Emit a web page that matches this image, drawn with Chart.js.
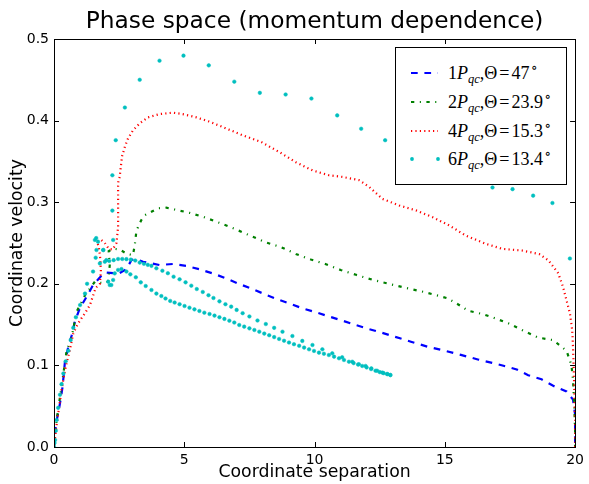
<!DOCTYPE html>
<html>
<head>
<meta charset="utf-8">
<script src="https://cdn.jsdelivr.net/npm/chart.js@4/dist/chart.umd.min.js"></script>
<style>
  html, body { margin: 0; padding: 0; background: #fff; }
  #wrap { position: relative; width: 589px; height: 484px; overflow: hidden; }
  #title { position: absolute; left: 316px; top: 6px; transform: translateX(-50%); white-space: nowrap;
           font-family: "DejaVu Sans", sans-serif; font-size: 23.3px; line-height: 28px; color: #000; }
  #legend { position: absolute; left: 395px; top: 47px; width: 172px; height: 138px; box-sizing: border-box;
            border: 1px solid #000; background: #fff; }
  .entry { position: absolute; left: 0; height: 24px; width: 170px; }
  .entry svg { position: absolute; left: 14px; top: 6px; }
  .entry .lab { position: absolute; left: 52px; top: 0; font-family: "Liberation Serif", "DejaVu Serif", serif; font-size: 18px; line-height: 24px; white-space: nowrap; color: #000; }
  .lab sub { font-size: 12.5px; vertical-align: -4px; line-height: 0; }
  .lab sup { font-size: 14px; vertical-align: 7px; line-height: 0; margin-left: 1.5px; }
  .lab .eq { padding: 0 2px; }
</style>
</head>
<body>
<div id="wrap">
  <canvas id="c" width="589" height="484"></canvas>
  <div id="title"></div>
  <div id="legend"></div>
</div>
<script>
// ---- data ----
const chartTitle = "Phase space (momentum dependence)";
const xTicks = [0, 5, 10, 15, 20];
const yTicks = [0.0, 0.1, 0.2, 0.3, 0.4, 0.5];

const seriesNames = ["1Pqc, Θ=47°", "2Pqc, Θ=23.9°", "4Pqc, Θ=15.3°", "6Pqc, Θ=13.4°"];
const legendMomentum = ["1", "2", "4", "6"];
const legendAngle = ["47", "23.9", "15.3", "13.4"];

const blueX = [0, 0.04, 0.13, 0.23, 0.33, 0.42, 0.55, 0.68, 0.8, 0.99, 1.25, 1.5, 1.82, 1.95, 2.27, 2.46, 2.78, 2.97, 3.1, 3.42, 3.75, 4.05, 4.56, 5.07, 5.58, 6.09, 6.6, 7.05, 7.5, 8.07, 8.5, 9.02, 9.53, 10.1, 10.55, 11.06, 11.58, 12.08, 12.59, 13.1, 13.7, 14.33, 15.0, 15.65, 16.3, 16.97, 17.25, 17.76, 18.2, 18.71, 19.16, 19.67, 19.92, 20, 20];
const blueY = [0, 0.019, 0.037, 0.0535, 0.074, 0.1045, 0.123, 0.137, 0.1536, 0.17, 0.184, 0.1985, 0.21, 0.214, 0.213, 0.212, 0.218, 0.229, 0.2304, 0.227, 0.225, 0.223, 0.2243, 0.222, 0.2178, 0.2128, 0.2067, 0.2006, 0.195, 0.1875, 0.182, 0.176, 0.17, 0.1646, 0.16, 0.155, 0.1495, 0.1446, 0.14, 0.135, 0.129, 0.123, 0.118, 0.1126, 0.107, 0.102, 0.0995, 0.095, 0.088, 0.083, 0.075, 0.068, 0.058, 0.04, 0];

const greenX = [0, 0.1, 0.29, 0.48, 0.68, 0.87, 1.19, 1.57, 1.89, 2.08, 2.14, 2.1, 2.27, 2.52, 2.78, 3.03, 3.1, 3.16, 3.23, 3.35, 3.48, 3.99, 4.31, 4.63, 5.2, 5.77, 6.41, 6.96, 7.56, 8.11, 8.71, 9.28, 9.86, 10.44, 11.0, 11.59, 12.22, 12.85, 13.5, 14.2, 14.8, 15.12, 15.5, 15.9, 16.44, 16.9, 17.44, 18.01, 18.59, 19.16, 19.67, 19.86, 19.92, 19.97, 20, 20];
const greenY = [0, 0.033, 0.074, 0.117, 0.135, 0.166, 0.186, 0.2026, 0.2006, 0.203, 0.223, 0.24, 0.243, 0.242, 0.237, 0.235, 0.2475, 0.264, 0.27, 0.278, 0.284, 0.2925, 0.2933, 0.291, 0.287, 0.2815, 0.274, 0.267, 0.2586, 0.251, 0.245, 0.2366, 0.2297, 0.224, 0.217, 0.211, 0.205, 0.2, 0.195, 0.19, 0.185, 0.182, 0.175, 0.167, 0.163, 0.158, 0.1516, 0.1426, 0.134, 0.131, 0.118, 0.1005, 0.082, 0.05, 0.02, 0];

const redX = [0, 0.1, 0.29, 0.42, 0.6, 0.74, 0.9, 1.06, 1.19, 1.38, 1.6, 1.76, 1.8, 1.78, 1.72, 1.65, 1.8, 1.95, 2.1, 2.25, 2.4, 2.46, 2.46, 2.46, 2.47, 2.52, 2.61, 2.72, 2.84, 3.03, 3.29, 3.61, 4.05, 4.56, 4.94, 5.46, 5.97, 6.6, 7.24, 7.94, 8.64, 9.28, 9.92, 10.56, 11.07, 11.71, 12.1, 12.61, 13.25, 13.89, 14.53, 15.17, 15.81, 16.57, 17.21, 17.98, 18.62, 18.97, 19.35, 19.54, 19.67, 19.8, 19.89, 19.92, 19.96, 20, 20];
const redY = [0, 0.027, 0.07, 0.094, 0.118, 0.139, 0.15, 0.158, 0.164, 0.174, 0.195, 0.2, 0.215, 0.23, 0.245, 0.252, 0.254, 0.25, 0.243, 0.242, 0.25, 0.27, 0.3, 0.32, 0.325, 0.331, 0.356, 0.368, 0.378, 0.388, 0.3966, 0.404, 0.408, 0.4097, 0.408, 0.404, 0.3987, 0.3905, 0.382, 0.374, 0.3616, 0.349, 0.339, 0.333, 0.331, 0.327, 0.3186, 0.304, 0.296, 0.29, 0.2817, 0.2715, 0.259, 0.249, 0.2428, 0.2407, 0.2365, 0.229, 0.213, 0.196, 0.18, 0.164, 0.143, 0.123, 0.082, 0.033, 0];

// cyan: rise, big arc, small loop, then the two converging branches
const cyanX = [0, 0.02, 0.04, 0.07, 0.1, 0.16, 0.23, 0.29, 0.36, 0.45, 0.55, 0.64, 0.74, 0.84, 1.0, 1.19, 1.27, 1.5, 1.6, 1.63, 1.57, 1.62, 1.69, 1.89, 2.27, 2.24, 2.24, 2.37, 2.72, 3.29, 4.05, 4.97, 5.94, 6.92, 7.9, 8.89, 9.88, 10.87, 11.79, 12.71, 13.7, 14.7, 15.8, 16.83, 17.6, 18.39, 19.13, 19.8,
  1.76, 1.89, 2.01, 2.08, 2.14, 2.2, 2.27, 2.33, 2.46,
  1.95, 2.12, 2.29, 2.46, 2.62, 2.78, 2.95, 3.12, 3.29, 3.45, 3.6, 3.74, 3.93, 4.16, 4.37, 4.59, 4.82, 5.05, 5.27, 5.48, 5.71, 5.93, 6.12, 6.35, 6.58, 6.8, 7.01, 7.24, 7.5, 7.81, 8.13, 8.45, 8.77, 9.15, 9.53, 9.92, 10.3, 10.68, 11.06, 11.45, 11.7, 11.96, 12.18, 12.4, 12.6, 12.78, 12.91,
  2.59, 2.78, 2.93, 3.14, 3.33, 3.52, 3.74, 3.93, 4.12, 4.28, 4.46, 4.63, 4.82, 5.01, 5.2, 5.39, 5.58, 5.77, 5.97, 6.16, 6.35, 6.54, 6.73, 6.92, 7.11, 7.3, 7.5, 7.69, 7.88, 8.07, 8.26, 8.45, 8.64, 8.83, 9.02, 9.21, 9.41, 9.6, 9.79, 9.98, 10.17, 10.36, 10.55, 10.75, 10.94, 11.13, 11.32, 11.5, 11.67, 11.83, 12.0, 12.17, 12.34, 12.5, 12.65, 12.8, 12.91];
const cyanY = [0, 0.005, 0.0086, 0.02, 0.033, 0.048, 0.064, 0.077, 0.09, 0.105, 0.118, 0.131, 0.146, 0.159, 0.174, 0.188, 0.2, 0.215, 0.232, 0.2414, 0.2537, 0.256, 0.2516, 0.2414, 0.2537, 0.2897, 0.333, 0.376, 0.416, 0.45, 0.4734, 0.4796, 0.4677, 0.4477, 0.434, 0.432, 0.427, 0.4064, 0.39, 0.376, 0.362, 0.349, 0.334, 0.318, 0.316, 0.308, 0.299, 0.231,
  0.225, 0.2414, 0.229, 0.2026, 0.1985, 0.1985, 0.2047, 0.2128, 0.217,
  0.227, 0.228, 0.229, 0.2304, 0.2304, 0.2302, 0.2296, 0.2285, 0.226, 0.2245, 0.2232, 0.222, 0.219, 0.216, 0.213, 0.2087, 0.2055, 0.2018, 0.1977, 0.1936, 0.19, 0.186, 0.1826, 0.1785, 0.175, 0.172, 0.168, 0.164, 0.16, 0.155, 0.1507, 0.146, 0.1413, 0.136, 0.13, 0.125, 0.1197, 0.1148, 0.11, 0.1045, 0.1015, 0.0993, 0.0963, 0.0935, 0.0912, 0.0895, 0.0882,
  0.218, 0.215, 0.2116, 0.208, 0.2018, 0.1973, 0.1924, 0.188, 0.185, 0.182, 0.179, 0.177, 0.175, 0.1728, 0.1707, 0.1687, 0.1667, 0.1646, 0.163, 0.161, 0.159, 0.157, 0.1548, 0.1525, 0.1495, 0.1475, 0.1454, 0.1434, 0.1413, 0.139, 0.137, 0.1347, 0.1324, 0.1302, 0.128, 0.126, 0.124, 0.1218, 0.1197, 0.1177, 0.1156, 0.1142, 0.1127, 0.1107, 0.1087, 0.1066, 0.1045, 0.1028, 0.101, 0.0993, 0.0975, 0.0955, 0.0935, 0.0918, 0.0905, 0.0893, 0.0882];

// ---- styles ----
const BLUE = '#0000ff', GREEN = '#008000', RED = '#ff0000', CYAN = '#00bfbf';
const pts = (xs, ys) => xs.map((x, i) => ({ x: x, y: ys[i] }));

const framePlugin = {
  id: 'frame',
  afterDatasetsDraw(chart) {
    const { ctx, chartArea: a, scales } = chart;
    ctx.save();
    ctx.strokeStyle = '#000';
    ctx.lineWidth = 1;
    ctx.beginPath();
    const L = 5;
    xTicks.forEach(v => {
      const px = Math.round(scales.x.getPixelForValue(v)) + 0.5;
      ctx.moveTo(px, a.bottom); ctx.lineTo(px, a.bottom - L);
      ctx.moveTo(px, a.top); ctx.lineTo(px, a.top + L);
    });
    yTicks.forEach(v => {
      const py = Math.round(scales.y.getPixelForValue(v)) + 0.5;
      ctx.moveTo(a.left, py); ctx.lineTo(a.left + L, py);
      ctx.moveTo(a.right, py); ctx.lineTo(a.right - L, py);
    });
    ctx.stroke();
    ctx.strokeRect(Math.round(a.left) + 0.5, Math.round(a.top) + 0.5, Math.round(a.right - a.left), Math.round(a.bottom - a.top));
    ctx.restore();
  }
};

Chart.defaults.font.family = "'DejaVu Sans', sans-serif";
Chart.defaults.color = '#000';

const chart = new Chart(document.getElementById('c'), {
  type: 'scatter',
  data: {
    datasets: [
      { label: seriesNames[0], data: pts(blueX, blueY), showLine: true, borderColor: BLUE, borderWidth: 2.2, borderDash: [6.7, 6.7], pointRadius: 0, order: 4 },
      { label: seriesNames[1], data: pts(greenX, greenY), showLine: true, borderColor: GREEN, borderWidth: 2.2, borderDash: [3.3, 5.5, 1.1, 5.5], pointRadius: 0, order: 3 },
      { label: seriesNames[2], data: pts(redX, redY), showLine: true, borderColor: RED, borderWidth: 2.2, borderDash: [1.2, 3.2], pointRadius: 0, order: 2 },
      { label: seriesNames[3], data: pts(cyanX, cyanY), showLine: false, backgroundColor: CYAN, borderColor: CYAN, borderWidth: 0.5, pointRadius: 1.8, order: 1 }
    ]
  },
  options: {
    responsive: false,
    animation: false,
    devicePixelRatio: 1,
    layout: { padding: { left: 0, right: 12, top: 39, bottom: 0 } },
    plugins: {
      legend: { display: false },
      tooltip: { enabled: false },
      title: { display: false }
    },
    scales: {
      x: {
        type: 'linear', min: 0, max: 20,
        afterBuildTicks: s => { s.ticks = xTicks.map(v => ({ value: v })); },
        ticks: { font: { size: 14 }, color: '#000', padding: 5, maxRotation: 0, callback: v => String(v) },
        grid: { display: false, drawTicks: false },
        border: { display: false },
        title: { display: true, text: 'Coordinate separation', font: { size: 17.3 }, color: '#000', padding: { top: 0, bottom: 1.5 } },
        afterFit: s => { s.height = 37; }
      },
      y: {
        type: 'linear', min: 0, max: 0.5,
        afterBuildTicks: s => { s.ticks = yTicks.map(v => ({ value: v })); },
        ticks: { font: { size: 14 }, color: '#000', padding: 5, callback: v => Number(v).toFixed(1) },
        grid: { display: false, drawTicks: false },
        border: { display: false },
        title: { display: true, text: 'Coordinate velocity', font: { size: 17.3 }, color: '#000', padding: { top: 7, bottom: 0 } },
        afterFit: s => { s.width = 54; }
      }
    }
  },
  plugins: [framePlugin]
});

// ---- title (HTML, centred over the plot area) ----
const tEl = document.getElementById('title');
tEl.textContent = chartTitle;
const ca = chart.chartArea;
tEl.style.left = ((ca.left + ca.right) / 2) + 'px';

// ---- legend (HTML, real text) ----
const legendStyles = [
  { kind: 'line', color: BLUE, dash: '6.7 6.7' },
  { kind: 'line', color: GREEN, dash: '3.3 5.5 1.1 5.5' },
  { kind: 'line', color: RED, dash: '1.2 3.2' },
  { kind: 'dots', color: CYAN }
];
const legendTops = [13, 42, 71, 99];
const lg = document.getElementById('legend');
legendStyles.forEach((st, i) => {
  const e = document.createElement('div');
  e.className = 'entry';
  e.style.top = legendTops[i] + 'px';
  let svg;
  if (st.kind === 'line') {
    svg = `<svg width="30" height="12"><line x1="1" y1="6" x2="28" y2="6" stroke="${st.color}" stroke-width="2.2" stroke-dasharray="${st.dash}"/></svg>`;
  } else {
    svg = `<svg width="30" height="12"><circle cx="2" cy="6" r="1.9" fill="${st.color}"/><circle cx="28" cy="6" r="1.9" fill="${st.color}"/></svg>`;
  }
  e.innerHTML = svg + `<span class="lab">${legendMomentum[i]}<i>P</i><sub><i>qc</i></sub>,Θ<span class="eq">=</span>${legendAngle[i]}<sup>∘</sup></span>`;
  lg.appendChild(e);
});
</script>
</body>
</html>
